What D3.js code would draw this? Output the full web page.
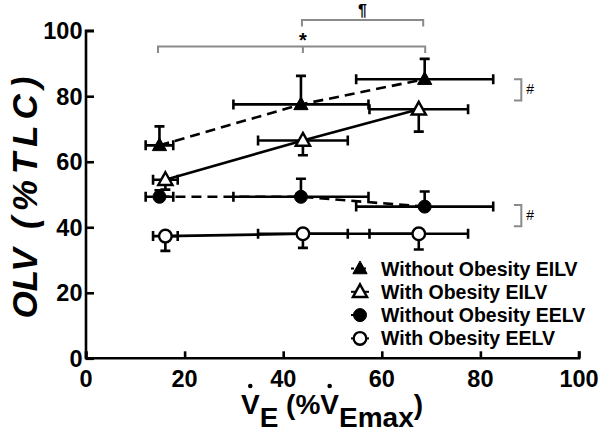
<!DOCTYPE html>
<html><head><meta charset="utf-8">
<script src="https://cdn.jsdelivr.net/npm/d3@7"></script>
<style>
html,body{margin:0;padding:0;background:#fff;}
svg{display:block;font-family:"Liberation Sans",Arial,sans-serif;}
</style></head>
<body>
<svg id="chart" width="600" height="434"></svg>
<script>
// ---- data (units: x = %VEmax, y = %TLC) ----
const xTicks = [0, 20, 40, 60, 80, 100];
const yTicks = [0, 20, 40, 60, 80, 100];

const woX = [14.9, 43.6, 68.7];          // Without Obesity, ventilation
const woXErr = [2.8, 13.7, 13.9];
const wX = [16.1, 44.0, 67.5];           // With Obesity, ventilation
const wXErr = [2.5, 9.1, 10.0];

const woEILV = [65.0, 77.5, 85.2];
const woEILVErr = [5.8, 8.7, 6.2];       // drawn upward
const wEILV = [54.5, 66.5, 76.0];
const wEILVErr = [3.0, 4.5, 6.8];        // drawn downward
const woEELV = [49.3, 49.3, 46.3];
const woEELVErr = [2.0, 5.5, 4.6];       // drawn upward
const wEELV = [37.3, 38.0, 38.0];
const wEELVErr = [4.5, 4.3, 4.8];        // drawn downward

const seriesNames = ["Without Obesity EILV", "With Obesity EILV", "Without Obesity EELV", "With Obesity EELV"];

const series = [
  {name: seriesNames[0], x: woX, xe: woXErr, y: woEILV, ye: woEILVErr, dir: 1, marker: "tri", fill: "#000", dash: true},
  {name: seriesNames[1], x: wX, xe: wXErr, y: wEILV, ye: wEILVErr, dir: -1, marker: "tri", fill: "#fff", dash: false},
  {name: seriesNames[2], x: woX, xe: woXErr, y: woEELV, ye: woEELVErr, dir: 1, marker: "circ", fill: "#000", dash: true},
  {name: seriesNames[3], x: wX, xe: wXErr, y: wEELV, ye: wEELVErr, dir: -1, marker: "circ", fill: "#fff", dash: false}
];

// significance annotations (x in %VEmax, y in %TLC)
const bracketLow = {x: [14.6, 44.0, 68.8], y: 95.2, drop: 2.0, label: "*"};
const bracketHigh = {x: [43.8, 68.4], y: 103.3, drop: 2.0, label: "\u00B6"};
const hashBrackets = [{y0: 85.2, y1: 78.7}, {y0: 46.8, y1: 40.3}];

// ---- layout ----
const svg = d3.select("#chart");
const x = d3.scaleLinear().domain([0, 100]).range([86, 579]);
const y = d3.scaleLinear().domain([0, 100]).range([358.3, 30.7]);

const axisW = 2.6;
// x axis (ticks inward)
const gx = svg.append("g").attr("transform", `translate(0,${y(0)})`)
  .call(d3.axisTop(x).tickValues(xTicks).tickSize(7).tickFormat(""));
gx.selectAll("path,line").attr("stroke", "#000").attr("stroke-width", axisW);
gx.select(".domain").attr("d", `M${x(0)},-7V0H${x(100)}V-7`);
svg.append("g").selectAll("text").data(xTicks).join("text")
  .attr("x", d => x(d)).attr("y", 386.5).attr("text-anchor", "middle")
  .attr("font-size", 23.5).attr("font-weight", "bold").text(d => d);

// y axis (ticks inward)
const gy = svg.append("g").attr("transform", `translate(${x(0)},0)`)
  .call(d3.axisRight(y).tickValues(yTicks).tickSize(8).tickFormat(""));
gy.selectAll("path,line").attr("stroke", "#000").attr("stroke-width", axisW);
gy.select(".domain").attr("d", `M8,${y(100)}H0V${y(0)}`);
svg.append("g").selectAll("text").data(yTicks).join("text")
  .attr("x", 82.5).attr("y", d => y(d) + 8.5).attr("text-anchor", "end")
  .attr("font-size", 23.5).attr("font-weight", "bold").text(d => d);

// y title
const yt = svg.append("text").attr("transform", `translate(37,${y(50)}) rotate(-90)`)
  .attr("text-anchor", "middle").attr("font-size", 35).attr("font-weight", "bold")
  .attr("font-style", "italic").attr("xml:space", "preserve");
yt.append("tspan").text("OLV  ");
yt.append("tspan").attr("letter-spacing", 6).text("(%TLC)");

// x title with subscripts and dots
const xt = svg.append("text").attr("x", 332).attr("y", 414).attr("text-anchor", "middle")
  .attr("font-size", 28).attr("font-weight", "bold");
xt.append("tspan").text("V");
xt.append("tspan").attr("dy", 13).text("E");
xt.append("tspan").attr("dy", -13).attr("xml:space", "preserve").text(" (%");
xt.append("tspan").text("V");
xt.append("tspan").attr("dy", 13).text("Emax");
xt.append("tspan").attr("dy", -13).text(")");
const xtn = xt.node();
[0, 5].forEach(i => {
  const s = xtn.getStartPositionOfChar(i), e = xtn.getEndPositionOfChar(i);
  svg.append("circle").attr("cx", (s.x + e.x) / 2).attr("cy", 386).attr("r", 2.3).attr("fill", "#000");
});

// ---- data marks ----
const lw = 2.6, cap = 5;
function marker(g, type, fill, cx, cy) {
  if (type === "tri") {
    const s = 7.5;
    g.append("path").attr("d", `M${cx},${cy - s}L${cx + s * 0.95},${cy + s * 0.7}L${cx - s * 0.95},${cy + s * 0.7}Z`)
      .attr("fill", fill).attr("stroke", "#000").attr("stroke-width", fill === "#000" ? 1 : 2.4).attr("stroke-linejoin", "miter");
  } else {
    g.append("circle").attr("cx", cx).attr("cy", cy).attr("r", fill === "#000" ? 6.5 : 6.3)
      .attr("fill", fill).attr("stroke", "#000").attr("stroke-width", fill === "#000" ? 1 : 2.4);
  }
}
const marks = svg.append("g");
// error bars first
series.forEach(s => {
  const g = marks.append("g").attr("stroke", "#000").attr("stroke-width", lw).attr("fill", "none");
  s.x.forEach((xv, i) => {
    const cx = x(xv), cy = y(s.y[i]);
    const xl = x(xv - s.xe[i]), xr = x(xv + s.xe[i]);
    g.append("path").attr("d", `M${xl},${cy}H${xr}M${xl},${cy - cap}V${cy + cap}M${xr},${cy - cap}V${cy + cap}`);
    const ye = y(s.y[i] + s.dir * s.ye[i]);
    g.append("path").attr("d", `M${cx},${cy}V${ye}M${cx - cap},${ye}H${cx + cap}`);
  });
});
// lines
series.forEach(s => {
  const pts = s.x.map((xv, i) => [x(xv), y(s.y[i])]);
  marks.append("path").attr("d", d3.line()(pts)).attr("fill", "none").attr("stroke", "#000")
    .attr("stroke-width", lw).attr("stroke-dasharray", s.dash ? "10,6" : null);
});
// markers
series.forEach(s => {
  const g = marks.append("g");
  s.x.forEach((xv, i) => marker(g, s.marker, s.fill, x(xv), y(s.y[i])));
});

// ---- significance brackets ----
const gray = "#8a8a8a";
const br = svg.append("g").attr("stroke", gray).attr("stroke-width", 2).attr("fill", "none");
br.append("path").attr("d",
  `M${x(bracketLow.x[0])},${y(bracketLow.y - bracketLow.drop)}V${y(bracketLow.y)}H${x(bracketLow.x[2])}V${y(bracketLow.y - bracketLow.drop)}M${x(bracketLow.x[1])},${y(bracketLow.y)}V${y(bracketLow.y - bracketLow.drop)}`);
br.append("path").attr("d",
  `M${x(bracketHigh.x[0])},${y(bracketHigh.y - bracketHigh.drop)}V${y(bracketHigh.y)}H${x(bracketHigh.x[1])}V${y(bracketHigh.y - bracketHigh.drop)}`);
svg.append("text").attr("x", x(bracketLow.x[1])).attr("y", y(bracketLow.y) + 1).attr("text-anchor", "middle")
  .attr("font-size", 20).attr("font-weight", "bold").text(bracketLow.label);
svg.append("text").attr("x", x((bracketHigh.x[0] + bracketHigh.x[1]) / 2)).attr("y", y(bracketHigh.y) - 4).attr("text-anchor", "middle")
  .attr("font-size", 16).attr("font-weight", "bold").text(bracketHigh.label);
hashBrackets.forEach(h => {
  br.append("path").attr("d", `M${x(86.8)},${y(h.y0)}H${x(88.3)}V${y(h.y1)}H${x(86.8)}`);
  svg.append("text").attr("x", x(89.3)).attr("y", y((h.y0 + h.y1) / 2) + 4).attr("font-size", 14).text("#");
});

// ---- legend ----
const leg = svg.append("g");
series.forEach((s, i) => {
  const ly = 268.5 + i * 23.3, lx = 360;
  const g = leg.append("g");
  g.append("path").attr("d", `M${lx - 9},${ly}H${lx + 9}`).attr("stroke", "#000").attr("stroke-width", 2)
    .attr("stroke-dasharray", s.dash ? "3,3" : null);
  marker(g, s.marker, s.fill, lx, ly);
  g.append("text").attr("x", 381).attr("y", ly + 7).attr("font-size", 19.5).attr("font-weight", "bold").text(s.name);
});
</script>
</body></html>
